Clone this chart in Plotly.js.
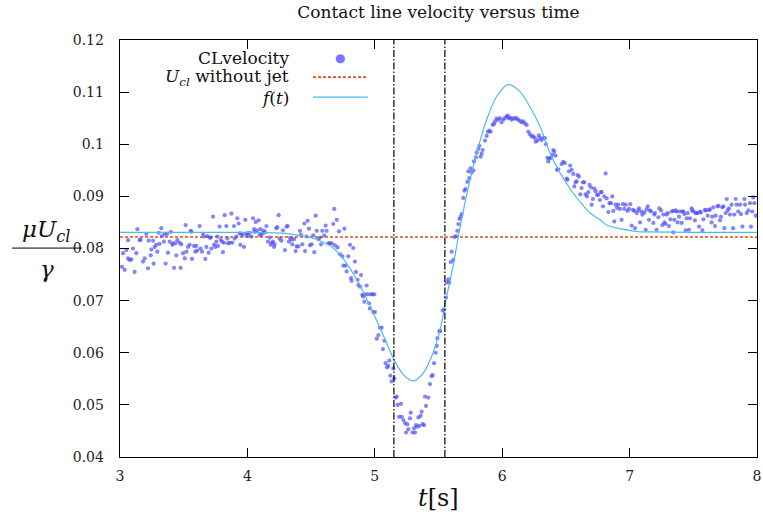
<!DOCTYPE html>
<html>
<head>
<meta charset="utf-8">
<script src="https://cdn.plot.ly/plotly-3.0.1.min.js"></script>
<style>html,body{margin:0;padding:0;background:#fff;}#chart{width:763px;height:522px;}</style>
</head>
<body>
<div id="chart"></div>
<script>
// Measured contact line velocity (scatter)
const clT = [3.016,3.037,3.024,3.050,3.063,3.076,3.089,3.115,3.128,3.102,3.063,3.136,3.154,3.162,3.181,3.194,3.207,3.220,3.225,3.241,3.246,3.259,3.264,3.272,3.285,3.293,3.304,3.311,3.324,3.330,3.345,3.351,3.358,3.369,3.377,3.390,3.398,3.411,3.416,3.424,3.434,3.442,3.450,3.468,3.476,3.481,3.495,3.508,3.515,3.521,3.534,3.547,3.555,3.560,3.565,3.581,3.591,3.599,3.607,3.625,3.633,3.644,3.651,3.659,3.670,3.678,3.686,3.696,3.704,3.712,3.717,3.730,3.738,3.748,3.756,3.764,3.769,3.782,3.790,3.801,3.808,3.816,3.822,3.835,3.843,3.848,3.861,3.874,3.882,3.895,3.900,3.913,3.921,3.931,3.939,3.945,3.952,3.965,3.973,3.984,3.992,3.999,4.005,4.018,4.031,4.044,4.052,4.057,4.065,4.078,4.088,4.096,4.104,4.109,4.122,4.130,4.138,4.149,4.162,4.175,4.183,4.193,4.201,4.209,4.214,4.227,4.235,4.245,4.253,4.266,4.279,
4.295,4.308,4.316,4.326,4.334,4.347,4.353,4.368,4.379,4.387,4.400,4.413,4.421,4.431,4.447,4.452,4.465,4.473,4.483,4.491,4.504,4.517,4.525,4.536,4.544,4.557,4.570,4.578,4.588,4.604,4.614,4.622,4.635,4.648,4.661,4.674,4.682,4.687,4.701,4.708,4.719,4.727,4.745,4.761,4.753,4.771,4.779,4.792,4.805,4.813,4.818,4.831,4.844,4.852,4.865,4.871,4.884,4.892,4.902,4.910,4.918,4.923,4.936,4.944,4.954,4.962,4.970,4.981,4.988,4.996,5.001,5.015,5.028,5.041,5.054,5.064,5.075,5.085,5.096,5.106,5.114,5.122,5.132,5.145,5.153,5.164,5.172,5.179,5.190,
5.206,5.211,5.224,5.237,5.245,5.255,5.263,5.276,5.282,5.297,5.308,5.316,5.323,5.334,5.342,5.350,5.360,5.368,5.376,5.386,5.394,5.402,5.420,5.433,5.446,5.454,5.465,5.478,5.486,5.491,5.507,5.512,5.533,5.543,5.559,5.564,5.577,5.585,5.596,5.603,5.616,5.624,5.637,5.648,5.656,5.664,5.674,5.682,5.695,5.703,5.713,5.726,5.734,5.742,5.752,5.760,5.773,5.779,5.794,5.800,5.813,5.821,5.831,5.839,5.847,5.865,5.878,5.886,5.899,5.909,5.925,5.936,
5.944,5.956,5.969,5.982,5.995,6.008,6.021,6.035,6.042,6.053,6.061,6.074,6.087,6.100,6.113,6.126,6.139,6.152,6.165,6.178,6.192,6.205,6.218,6.231,6.244,6.257,6.262,6.278,6.288,6.296,6.309,6.322,6.335,6.343,6.354,6.362,6.369,6.383,6.393,6.401,6.409,6.419,6.430,6.440,6.466,6.479,6.492,6.506,6.513,6.524,6.534,6.545,6.558,6.566,6.576,6.584,6.592,6.602,6.613,6.623,6.634,6.644,6.655,6.665,6.676,6.686,6.697,6.702,6.712,6.723,6.733,6.744,6.754,6.767,6.775,6.780,6.791,6.801,6.812,6.820,6.833,6.843,6.854,6.864,6.872,6.880,6.890,6.901,6.911,6.924,6.937,6.948,6.958,6.969,6.984,6.995,7.005,7.016,7.026,7.037,
7.042,7.056,7.069,7.074,7.082,7.095,7.100,7.116,7.126,7.134,7.142,7.152,7.160,7.168,7.186,7.194,7.199,7.212,7.226,7.233,7.247,7.257,7.265,7.273,7.283,7.291,7.299,7.309,7.320,7.330,7.343,7.343,7.351,7.362,7.370,7.377,7.388,7.396,7.409,7.414,7.422,7.430,7.440,7.448,7.456,7.466,7.474,7.487,7.492,7.500,7.513,7.519,7.526,7.534,7.545,7.553,7.560,7.571,7.579,7.592,7.597,7.613,7.623,7.631,7.644,7.649,7.657,7.670,7.676,7.691,7.697,7.710,7.717,7.728,7.736,7.744,7.754,7.762,7.770,7.780,7.788,7.801,7.812,7.822,7.833,7.840,7.853,7.867,7.874,7.885,7.901,7.906,7.919,7.932,7.945,7.953,7.963,7.979,7.971,7.990];
const clU = [0.0765,0.0759,0.0791,0.0797,0.0781,0.0778,0.0779,0.0755,0.0791,0.0800,0.0816,0.0837,0.0816,0.0817,0.0775,0.0781,0.0828,0.0762,0.0815,0.0787,0.0798,0.0815,0.0771,0.0803,0.0807,0.0794,0.0830,0.0809,0.0839,0.0824,0.0813,0.0828,0.0771,0.0828,0.0792,0.0813,0.0832,0.0807,0.0810,0.0763,0.0810,0.0787,0.0816,0.0811,0.0763,0.0808,0.0791,0.0781,0.0845,0.0794,0.0803,0.0807,0.0834,0.0832,0.0780,0.0805,0.0794,0.0805,0.0796,0.0843,0.0800,0.0794,0.0828,0.0823,0.0780,0.0803,0.0824,0.0792,0.0821,0.0821,0.0800,0.0861,0.0807,0.0803,0.0813,0.0823,0.0805,0.0842,0.0817,0.0813,0.0793,0.0811,0.0864,0.0843,0.0819,0.0810,0.0811,0.0867,0.0811,0.0843,0.0819,0.0823,0.0858,0.0848,0.0829,0.0807,0.0828,0.0826,0.0803,0.0855,0.0828,0.0829,0.0824,0.0830,0.0823,0.0858,0.0837,0.0832,0.0851,0.0835,0.0854,0.0826,0.0837,0.0826,0.0830,0.0834,0.0831,0.0843,0.0813,0.0821,0.0807,0.0811,0.0813,0.0803,0.0808,0.0839,0.0841,0.0864,0.0819,0.0815,0.0835,
0.0797,0.0842,0.0843,0.0813,0.0820,0.0817,0.0808,0.0818,0.0795,0.0804,0.0804,0.0834,0.0826,0.0808,0.0848,0.0795,0.0823,0.0853,0.0838,0.0806,0.0808,0.0825,0.0793,0.0863,0.0834,0.0818,0.0821,0.0808,0.0834,0.0825,0.0844,0.0834,0.0810,0.0810,0.0810,0.0847,0.0876,0.0806,0.0855,0.0802,0.0833,0.0789,0.0785,0.0838,0.0767,0.0767,0.0756,0.0785,0.0807,0.0743,0.0738,0.0801,0.0775,0.0755,0.0740,0.0730,0.0727,0.0749,0.0711,0.0708,0.0698,0.0712,0.0729,0.0712,0.0695,0.0685,0.0712,0.0712,0.0678,0.0712,0.0678,0.0627,0.0634,0.0648,0.0648,0.0607,0.0623,0.0580,0.0572,0.0575,0.0585,0.0556,0.0545,0.0570,0.0551,0.0514,0.0516,0.0500,0.0477,
0.0502,0.0477,0.0471,0.0465,0.0447,0.0463,0.0453,0.0474,0.0485,0.0447,0.0455,0.0447,0.0461,0.0458,0.0476,0.0460,0.0479,0.0487,0.0463,0.0461,0.0516,0.0498,0.0514,0.0540,0.0555,0.0557,0.0580,0.0600,0.0613,0.0628,0.0641,0.0642,0.0681,0.0683,0.0706,0.0735,0.0741,0.0735,0.0774,0.0794,0.0778,0.0822,0.0824,0.0834,0.0847,0.0857,0.0861,0.0866,0.0897,0.0911,0.0914,0.0928,0.0948,0.0935,0.0954,0.0946,0.0950,0.0967,0.0975,0.0984,0.0991,0.0997,0.0976,0.0982,0.0989,0.1007,0.1016,0.1024,0.1026,0.1024,0.1037,0.1039,
0.1044,0.1049,0.1047,0.1050,0.1042,0.1047,0.1050,0.1053,0.1055,0.1050,0.1051,0.1047,0.1050,0.1049,0.1050,0.1047,0.1045,0.1042,0.1044,0.1040,0.1037,0.1024,0.1019,0.1015,0.1015,0.1012,0.1005,0.1007,0.1017,0.1012,0.1008,0.1012,0.1012,0.1000,0.0974,0.0967,0.0973,0.0974,0.0980,0.0989,0.0986,0.0978,0.0951,0.0952,0.0962,0.0966,0.0964,0.0934,0.0932,0.0948,0.0959,0.0951,0.0943,0.0919,0.0927,0.0929,0.0941,0.0938,0.0904,0.0916,0.0927,0.0927,0.0904,0.0900,0.0908,0.0922,0.0917,0.0884,0.0895,0.0915,0.0910,0.0903,0.0903,0.0893,0.0908,0.0908,0.0881,0.0900,0.0944,0.0896,0.0870,0.0887,0.0887,0.0900,0.0872,0.0852,0.0884,0.0878,0.0884,0.0876,0.0855,0.0885,0.0876,0.0884,0.0872,0.0876,0.0885,0.0844,0.0874,0.0872,
0.0839,0.0868,0.0873,0.0877,0.0850,0.0871,0.0865,0.0869,0.0836,0.0875,0.0881,0.0855,0.0873,0.0871,0.0849,0.0865,0.0868,0.0836,0.0860,0.0877,0.0873,0.0845,0.0865,0.0850,0.0847,0.0865,0.0868,0.0843,0.0856,0.0871,0.0872,0.0831,0.0855,0.0873,0.0871,0.0850,0.0861,0.0871,0.0849,0.0871,0.0871,0.0866,0.0835,0.0858,0.0868,0.0836,0.0858,0.0877,0.0873,0.0871,0.0854,0.0868,0.0868,0.0868,0.0842,0.0871,0.0869,0.0835,0.0856,0.0874,0.0873,0.0863,0.0874,0.0875,0.0850,0.0861,0.0879,0.0843,0.0863,0.0881,0.0882,0.0854,0.0861,0.0879,0.0881,0.0839,0.0868,0.0895,0.0873,0.0877,0.0865,0.0884,0.0839,0.0865,0.0895,0.0884,0.0871,0.0884,0.0866,0.0842,0.0895,0.0884,0.0868,0.0873,0.0887,0.0842,0.0871,0.0887,0.0898,0.0863];

// Fitted model f(t)
const fitT = [3.0,3.5,4.0,4.2,4.3,4.41,4.5,4.57,4.674,4.753,4.857,4.962,5.067,5.159,5.224,5.302,5.38,5.446,5.512,5.564,5.616,5.656,5.721,5.80,5.878,5.957,6.048,6.14,6.218,6.297,6.375,6.454,6.558,6.61,6.689,6.768,6.82,6.925,7.08,7.13,7.5,8.0];
const fitU = [0.0831,0.0831,0.0831,0.0830,0.0829,0.0825,0.0821,0.0815,0.0801,0.0780,0.0741,0.0690,0.0633,0.0583,0.0558,0.0546,0.0561,0.0593,0.0644,0.0708,0.0768,0.0823,0.0903,0.0983,0.1047,0.1092,0.1115,0.1101,0.1072,0.1034,0.0983,0.0945,0.0906,0.0890,0.0868,0.0855,0.0845,0.0838,0.0832,0.0832,0.0831,0.0831];

// Reference level without jet
const refT = [3, 8];
const refU = [0.0822, 0.0822];

// Jet on/off times (vertical markers)
const jetTimes = [5.15, 5.55];
const yRange = [0.04, 0.12];

const xTicks = [3,4,5,6,7,8];
const yTicks = [0.04,0.05,0.06,0.07,0.08,0.09,0.1,0.11,0.12];
const yTickText = ['0.04','0.05','0.06','0.07','0.08','0.09','0.1','0.11','0.12'];

const serif = 'DejaVu Serif';

const traces = [
  {x: refT, y: refU, mode: 'lines', line: {color: 'rgb(225,80,20)', width: 1.6, dash: '3px,2px'}, showlegend: false, hoverinfo: 'skip'},
  {x: clT, y: clU, mode: 'markers', marker: {color: 'rgba(80,80,250,0.7)', size: 4.2, line: {width: 0}}, showlegend: false, hoverinfo: 'skip'},
  {x: fitT, y: fitU, mode: 'lines', line: {color: 'rgb(80,185,235)', width: 1.2, shape: 'spline', smoothing: 0.8}, showlegend: false, hoverinfo: 'skip'}
];
jetTimes.forEach(t => traces.push({x: [t, t], y: yRange, mode: 'lines', line: {color: 'black', width: 1.2, dash: '7px,2px,1.5px,2px'}, showlegend: false, hoverinfo: 'skip'}));

const axisCommon = {
  showline: true, linecolor: 'black', linewidth: 1.3, mirror: 'ticks',
  ticks: 'inside', ticklen: 9, tickwidth: 1, tickcolor: 'black',
  showgrid: false, zeroline: false,
  tickfont: {family: serif, size: 14, color: '#222'}
};

const layout = {
  width: 763, height: 522,
  margin: {l: 120, r: 6, t: 40, b: 65},
  paper_bgcolor: 'white', plot_bgcolor: 'white',
  font: {family: serif},
  title: {text: 'Contact line velocity versus time', font: {family: serif, size: 17, color: '#111'}, x: 0.5, xref: 'paper', xanchor: 'center', y: 0.976, yref: 'container', yanchor: 'middle'},
  xaxis: Object.assign({}, axisCommon, {range: [3, 8], tickvals: xTicks, ticktext: xTicks.map(String), ticklabelstandoff: 6}),
  yaxis: Object.assign({}, axisCommon, {range: yRange, tickvals: yTicks, ticktext: yTickText, ticklabelstandoff: 12}),
  shapes: [
    {type: 'line', xref: 'paper', yref: 'paper', x0: -0.1695, x1: -0.0597, y0: 0.501, y1: 0.501, line: {color: 'black', width: 1}},
    {type: 'line', xref: 'paper', yref: 'paper', x0: 0.303, x1: 0.389, y0: 0.911, y1: 0.911, line: {color: 'rgb(225,80,20)', width: 1.6, dash: '3px,2px'}},
    {type: 'line', xref: 'paper', yref: 'paper', x0: 0.303, x1: 0.389, y0: 0.863, y1: 0.863, line: {color: 'rgb(80,185,235)', width: 1.2}}
  ],
  annotations: [
    {xref: 'paper', yref: 'paper', x: 0.5, y: -0.098, text: '<i>t</i>[s]', showarrow: false, font: {family: serif, size: 24, color: '#111'}, xanchor: 'center', yanchor: 'middle'},
    {xref: 'paper', yref: 'paper', x: -0.115, y: 0.541, text: '<i>μU</i><sub><i>cl</i></sub>', showarrow: false, font: {family: serif, size: 23, color: '#111'}, xanchor: 'center', yanchor: 'middle'},
    {xref: 'paper', yref: 'paper', x: -0.115, y: 0.450, text: '<i>γ</i>', showarrow: false, font: {family: serif, size: 23, color: '#111'}, xanchor: 'center', yanchor: 'middle'},
    {xref: 'paper', yref: 'paper', x: 0.2685, y: 0.957, text: 'CLvelocity', showarrow: false, font: {family: serif, size: 17, color: '#111'}, xanchor: 'right', yanchor: 'middle'},
    {xref: 'paper', yref: 'paper', x: 0.2685, y: 0.909, text: '<i>U</i><sub><i>cl</i></sub> without jet', showarrow: false, font: {family: serif, size: 17, color: '#111'}, xanchor: 'right', yanchor: 'middle'},
    {xref: 'paper', yref: 'paper', x: 0.2685, y: 0.861, text: '<i>f</i>(<i>t</i>)', showarrow: false, font: {family: serif, size: 17, color: '#111'}, xanchor: 'right', yanchor: 'middle'},
    {xref: 'paper', yref: 'paper', x: 0.345, y: 0.957, text: '●', showarrow: false, font: {family: 'DejaVu Sans', size: 12, color: 'rgb(120,120,255)'}, xanchor: 'center', yanchor: 'middle'}
  ]
};

Plotly.newPlot('chart', traces, layout, {staticPlot: true, displayModeBar: false});
</script>
</body>
</html>
